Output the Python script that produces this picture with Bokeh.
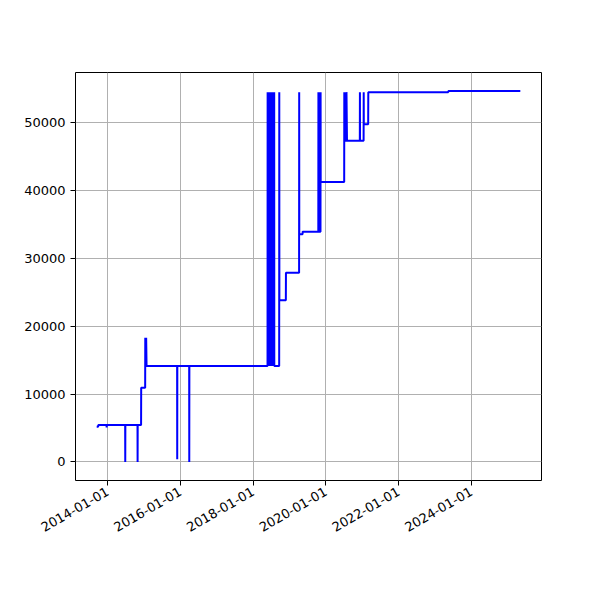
import math
import pandas as pd
from bokeh.plotting import figure
from bokeh.models import (ColumnDataSource, Range1d, FixedTicker,
                          DatetimeTickFormatter, BasicTickFormatter)
from bokeh.embed import file_html
from bokeh.resources import INLINE

# ---- data ----
dates = [
    "2013-09-12", "2013-09-27", "2013-09-28", "2013-12-20", "2013-12-21", "2013-12-22",
    "2014-06-25", "2014-06-26", "2014-06-27",
    "2014-10-27", "2014-10-28", "2014-10-29",
    "2014-12-02", "2014-12-03",
    "2015-01-12", "2015-01-13", "2015-01-17", "2015-01-18", "2015-01-21", "2015-01-22", "2015-01-26",
    "2015-11-29", "2015-11-30", "2015-12-01",
    "2016-03-29", "2016-03-30", "2016-03-31",
    "2018-05-25", "2018-05-26", "2018-05-29", "2018-06-01", "2018-06-04", "2018-06-07",
    "2018-06-10", "2018-06-13", "2018-06-16", "2018-06-19", "2018-06-22", "2018-06-25",
    "2018-06-28", "2018-07-01", "2018-07-04", "2018-07-07", "2018-07-10", "2018-07-13",
    "2018-07-16", "2018-07-19", "2018-07-22", "2018-07-25", "2018-07-28", "2018-07-31",
    "2018-08-01",
    "2018-09-19", "2018-09-20", "2018-09-21",
    "2018-11-25", "2018-11-26",
    "2019-04-07", "2019-04-08", "2019-04-09",
    "2019-05-12", "2019-05-13",
    "2019-10-17", "2019-10-18", "2019-10-19", "2019-10-28", "2019-10-29", "2019-10-30",
    "2019-11-08", "2019-11-09", "2019-11-10",
    "2020-07-03", "2020-07-04", "2020-07-05", "2020-07-14", "2020-07-15", "2020-07-16",
    "2020-07-25", "2020-07-26", "2020-07-31",
    "2020-12-07", "2020-12-08", "2020-12-09",
    "2021-01-14", "2021-01-15", "2021-01-16",
    "2021-03-01", "2021-03-02",
    "2023-05-14", "2023-05-15",
    "2025-05-07",
]
values = [
    5200, 5200, 5450, 5450, 5100, 5450,
    5450, 0, 5450,
    5450, 0, 5450,
    5450, 10950,
    10950, 18320, 14150, 18320, 14150, 18320, 14150,
    14150, 400, 14150,
    14150, 0, 14150,
    14150, 54500, 14150, 54500, 14150, 54500,
    14150, 54500, 14150, 54500, 14150, 54500,
    14150, 54500, 14150, 54500, 14150, 54500,
    14150, 54500, 14150, 54500, 14150, 54500,
    14150,
    14150, 54500, 23830,
    23830, 27900,
    27900, 54500, 33550,
    33550, 33940,
    33940, 54500, 33940, 33940, 54500, 33940,
    33940, 54500, 41250,
    41250, 54500, 47350, 47350, 54500, 47350,
    47350, 54500, 47350,
    47350, 54500, 47350,
    47350, 54500, 49760,
    49760, 54500,
    54500, 54660,
    54660,
]
x_tick_labels = ["2014-01-01", "2016-01-01", "2018-01-01",
                 "2020-01-01", "2022-01-01", "2024-01-01"]
y_ticks = [0, 10000, 20000, 30000, 40000, 50000]

# ---- build ----
x = pd.to_datetime(dates)
src = ColumnDataSource(dict(x=x, y=values))

t0, t1 = x.min(), x.max()
tpad = (t1 - t0) * 0.05
vmin, vmax = min(values), max(values)
vpad = (vmax - vmin) * 0.05

p = figure(width=584, height=584, x_axis_type="datetime",
           output_backend="svg", toolbar_location=None,
           x_range=Range1d(t0 - tpad, t1 + tpad),
           y_range=Range1d(vmin - vpad, vmax + vpad),
           min_border_left=75, min_border_right=43,
           min_border_top=72, min_border_bottom=104)

p.line("x", "y", source=src, line_color="#0000ff", line_width=2)

tick_ms = [pd.Timestamp(s).value / 1e6 for s in x_tick_labels]
p.xaxis.ticker = FixedTicker(ticks=tick_ms)
fmt = "%Y-%m-%d"
p.xaxis.formatter = DatetimeTickFormatter(
    microseconds=fmt, milliseconds=fmt, seconds=fmt, minsec=fmt,
    minutes=fmt, hourmin=fmt, hours=fmt, days=fmt, months=fmt, years=fmt)
p.xaxis.major_label_orientation = math.pi / 6

p.yaxis.ticker = FixedTicker(ticks=y_ticks)
p.yaxis.formatter = BasicTickFormatter(use_scientific=False)

for ax in (p.xaxis, p.yaxis):
    ax.axis_line_color = None
    ax.major_tick_out = 5
    ax.major_tick_in = 0
    ax.major_tick_line_color = "black"
    ax.minor_tick_line_color = None
    ax.major_label_text_font = "DejaVu Sans"
    ax.major_label_text_font_size = "13px"
    ax.major_label_text_color = "black"
    ax.major_label_standoff = 5

p.grid.grid_line_color = "#b0b0b0"
p.grid.grid_line_width = 1
p.outline_line_color = "black"
p.outline_line_width = 1
p.outline_line_alpha = 1
p.background_fill_color = "white"
p.border_fill_color = "white"

open("out.html", "w").write(file_html(p, INLINE))
